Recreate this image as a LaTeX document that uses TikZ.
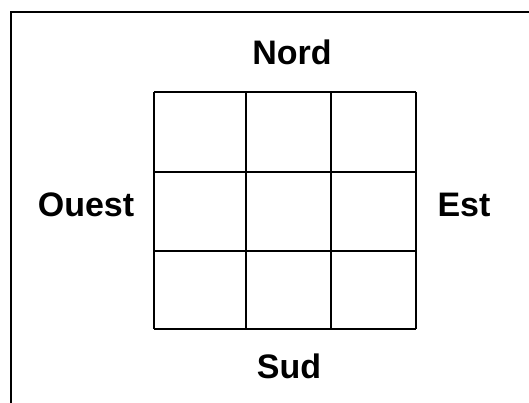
\documentclass[tikz,border=0pt]{standalone}
\usepackage{fontspec}
\setmainfont{Liberation Sans}
\usetikzlibrary{positioning}

\begin{document}
\begin{tikzpicture}[x=1pt,y=-1pt,
    dir/.style={font=\bfseries\fontsize{34}{40}\selectfont,inner sep=0pt,anchor=base},
    cell/.style={line width=1.2pt}]
      \useasboundingbox (0,0) rectangle (529,403);
      % Frame: only top and left edges
      \draw[line width=2.2pt] (11,403) -- (11,12) -- (529,12);
      % 3x3 grid
      \foreach \x in {154,246,331,416}
        \draw[cell] (\x,92) -- (\x,329);
      \foreach \y in {92,172,251,329}
        \draw[cell] (154,\y) -- (416,\y);
      % Directions
      \node[dir] (nord) at (292,65) {Nord};
      \node[dir] (sud) at (289,378) {Sud};
      \node[dir] (ouest) at (86,216) {Ouest};
      \node[dir] (est) at (464,216) {Est};
    \end{tikzpicture}
\end{document}
